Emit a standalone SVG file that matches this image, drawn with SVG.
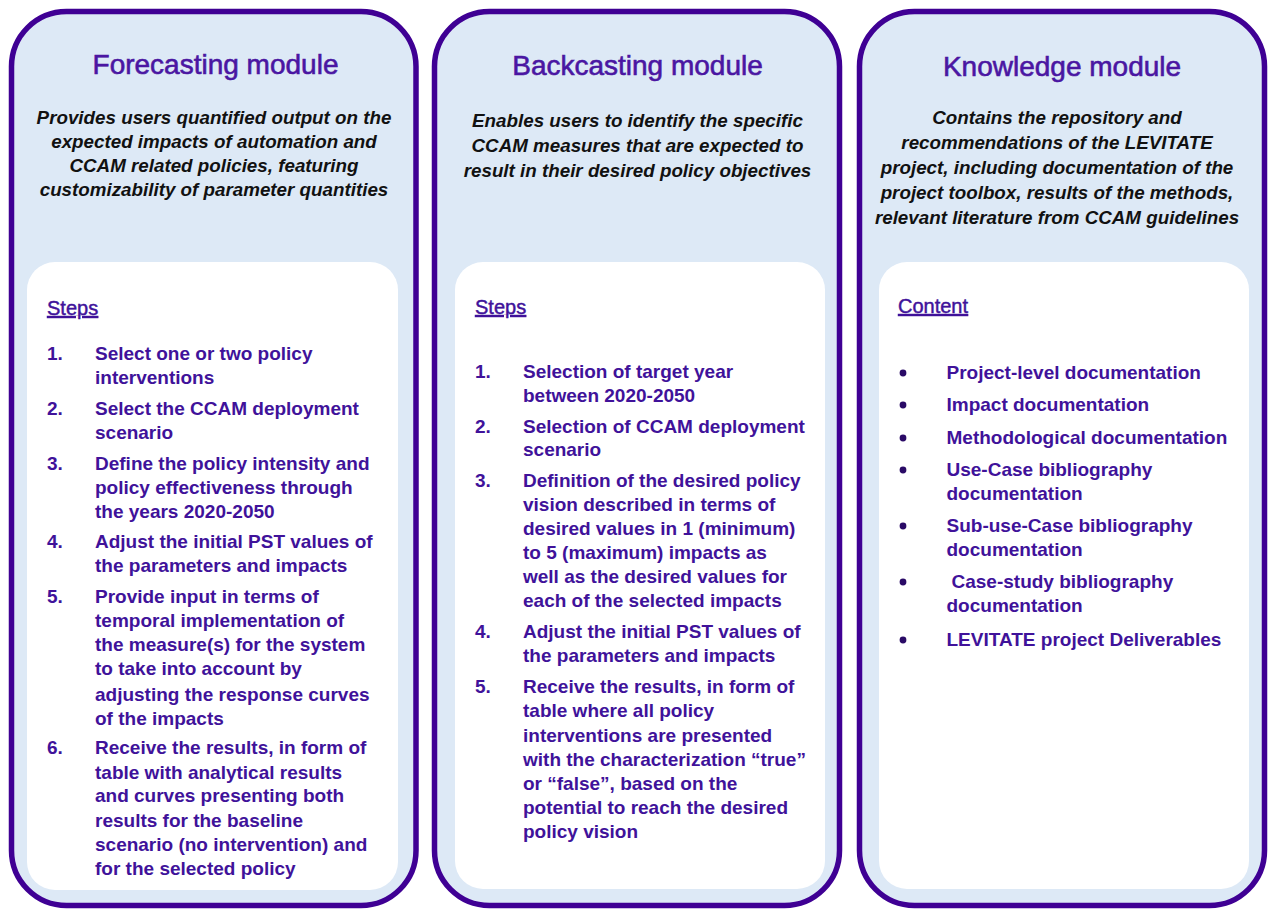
<svg xmlns="http://www.w3.org/2000/svg" width="1269" height="911" viewBox="0 0 1269 911">
  <style>
    .outer { fill: #dde9f6; stroke: #3f0094; stroke-width: 5.5; }
    .inner { fill: #ffffff; }
    .title { font-family: "Liberation Sans", Arial, sans-serif; font-size: 28px; fill: #4a16a2; stroke: #4a16a2; stroke-width: 0.6; text-anchor: middle; }
    .desc { font-family: "Liberation Sans", Arial, sans-serif; font-size: 18.8px; font-weight: bold; font-style: italic; fill: #111111; text-anchor: middle; }
    .head { font-family: "Liberation Sans", Arial, sans-serif; font-size: 20px; fill: #40129a; stroke: #40129a; stroke-width: 0.45; text-decoration: underline; }
    .item { font-family: "Liberation Sans", Arial, sans-serif; font-size: 19px; font-weight: bold; fill: #40129a; }
    .bullet { fill: #2a0a66; }
  </style>

  <!-- Forecasting module -->
  <g id="forecasting">
    <rect class="outer" x="11.5" y="11.5" width="404.5" height="894" rx="55"/>
    <rect class="inner" x="27" y="262" width="371" height="628" rx="28"/>
    <text class="title" x="215.5" y="73.5">Forecasting module</text>
    <text class="desc" x="214" y="124">Provides users quantified output on the</text>
    <text class="desc" x="214" y="148">expected impacts of automation and</text>
    <text class="desc" x="214" y="172">CCAM related policies, featuring</text>
    <text class="desc" x="214" y="196">customizability of parameter quantities</text>
    <text class="head" x="47" y="315">Steps</text>
    <g class="item">
      <text x="47" y="360">1.</text>
      <text x="95" y="360">Select one or two policy</text>
      <text x="95" y="384">interventions</text>
      <text x="47" y="415">2.</text>
      <text x="95" y="415">Select the CCAM deployment</text>
      <text x="95" y="439">scenario</text>
      <text x="47" y="470">3.</text>
      <text x="95" y="470">Define the policy intensity and</text>
      <text x="95" y="494">policy effectiveness through</text>
      <text x="95" y="518">the years 2020-2050</text>
      <text x="47" y="548">4.</text>
      <text x="95" y="548">Adjust the initial PST values of</text>
      <text x="95" y="572">the parameters and impacts</text>
      <text x="47" y="603">5.</text>
      <text x="95" y="603">Provide input in terms of</text>
      <text x="95" y="627">temporal implementation of</text>
      <text x="95" y="651">the measure(s) for the system</text>
      <text x="95" y="675">to take into account by</text>
      <text x="95" y="701">adjusting the response curves</text>
      <text x="95" y="725">of the impacts</text>
      <text x="47" y="754">6.</text>
      <text x="95" y="754">Receive the results, in form of</text>
      <text x="95" y="779">table with analytical results</text>
      <text x="95" y="802">and curves presenting both</text>
      <text x="95" y="827">results for the baseline</text>
      <text x="95" y="851">scenario (no intervention) and</text>
      <text x="95" y="875">for the selected policy</text>
    </g>
  </g>

  <!-- Backcasting module -->
  <g id="backcasting">
    <rect class="outer" x="434.5" y="11.5" width="405" height="894" rx="55"/>
    <rect class="inner" x="455" y="262" width="370" height="627" rx="28"/>
    <text class="title" x="637.5" y="75">Backcasting module</text>
    <text class="desc" x="637.5" y="127">Enables users to identify the specific</text>
    <text class="desc" x="637.5" y="152">CCAM measures that are expected to</text>
    <text class="desc" x="637.5" y="177">result in their desired policy objectives</text>
    <text class="head" x="475" y="314">Steps</text>
    <g class="item">
      <text x="475" y="378">1.</text>
      <text x="523" y="378">Selection of target year</text>
      <text x="523" y="402">between 2020-2050</text>
      <text x="475" y="433">2.</text>
      <text x="523" y="433">Selection of CCAM deployment</text>
      <text x="523" y="456">scenario</text>
      <text x="475" y="487">3.</text>
      <text x="523" y="487">Definition of the desired policy</text>
      <text x="523" y="511">vision described in terms of</text>
      <text x="523" y="535">desired values in 1 (minimum)</text>
      <text x="523" y="559">to 5 (maximum) impacts as</text>
      <text x="523" y="583">well as the desired values for</text>
      <text x="523" y="607">each of the selected impacts</text>
      <text x="475" y="638">4.</text>
      <text x="523" y="638">Adjust the initial PST values of</text>
      <text x="523" y="662">the parameters and impacts</text>
      <text x="475" y="693">5.</text>
      <text x="523" y="693">Receive the results, in form of</text>
      <text x="523" y="717">table where all policy</text>
      <text x="523" y="742">interventions are presented</text>
      <text x="523" y="766">with the characterization “true”</text>
      <text x="523" y="790">or “false”, based on the</text>
      <text x="523" y="814">potential to reach the desired</text>
      <text x="523" y="838">policy vision</text>
    </g>
  </g>

  <!-- Knowledge module -->
  <g id="knowledge">
    <rect class="outer" x="859.5" y="11.5" width="405" height="894" rx="55"/>
    <rect class="inner" x="879" y="262" width="370" height="627" rx="28"/>
    <text class="title" x="1062" y="76">Knowledge module</text>
    <text class="desc" x="1057" y="123.5">Contains the repository and</text>
    <text class="desc" x="1057" y="148.5">recommendations of the LEVITATE</text>
    <text class="desc" x="1057" y="173.5">project, including documentation of the</text>
    <text class="desc" x="1057" y="198.5">project toolbox, results of the methods,</text>
    <text class="desc" x="1057" y="223.5">relevant literature from CCAM guidelines</text>
    <text class="head" x="898" y="313">Content</text>
    <g class="bullets">
      <circle class="bullet" cx="903" cy="373" r="3.4"/>
      <circle class="bullet" cx="903" cy="405" r="3.4"/>
      <circle class="bullet" cx="903" cy="438" r="3.4"/>
      <circle class="bullet" cx="903" cy="470" r="3.4"/>
      <circle class="bullet" cx="903" cy="526" r="3.4"/>
      <circle class="bullet" cx="903" cy="582" r="3.4"/>
      <circle class="bullet" cx="903" cy="640" r="3.4"/>
    </g>
    <g class="item">
      <text x="946.5" y="379">Project-level documentation</text>
      <text x="946.5" y="411">Impact documentation</text>
      <text x="946.5" y="444">Methodological documentation</text>
      <text x="946.5" y="476">Use-Case bibliography</text>
      <text x="946.5" y="499.5">documentation</text>
      <text x="946.5" y="532">Sub-use-Case bibliography</text>
      <text x="946.5" y="556">documentation</text>
      <text x="951.5" y="588">Case-study bibliography</text>
      <text x="946.5" y="612">documentation</text>
      <text x="946.5" y="646">LEVITATE project Deliverables</text>
    </g>
  </g>
</svg>
